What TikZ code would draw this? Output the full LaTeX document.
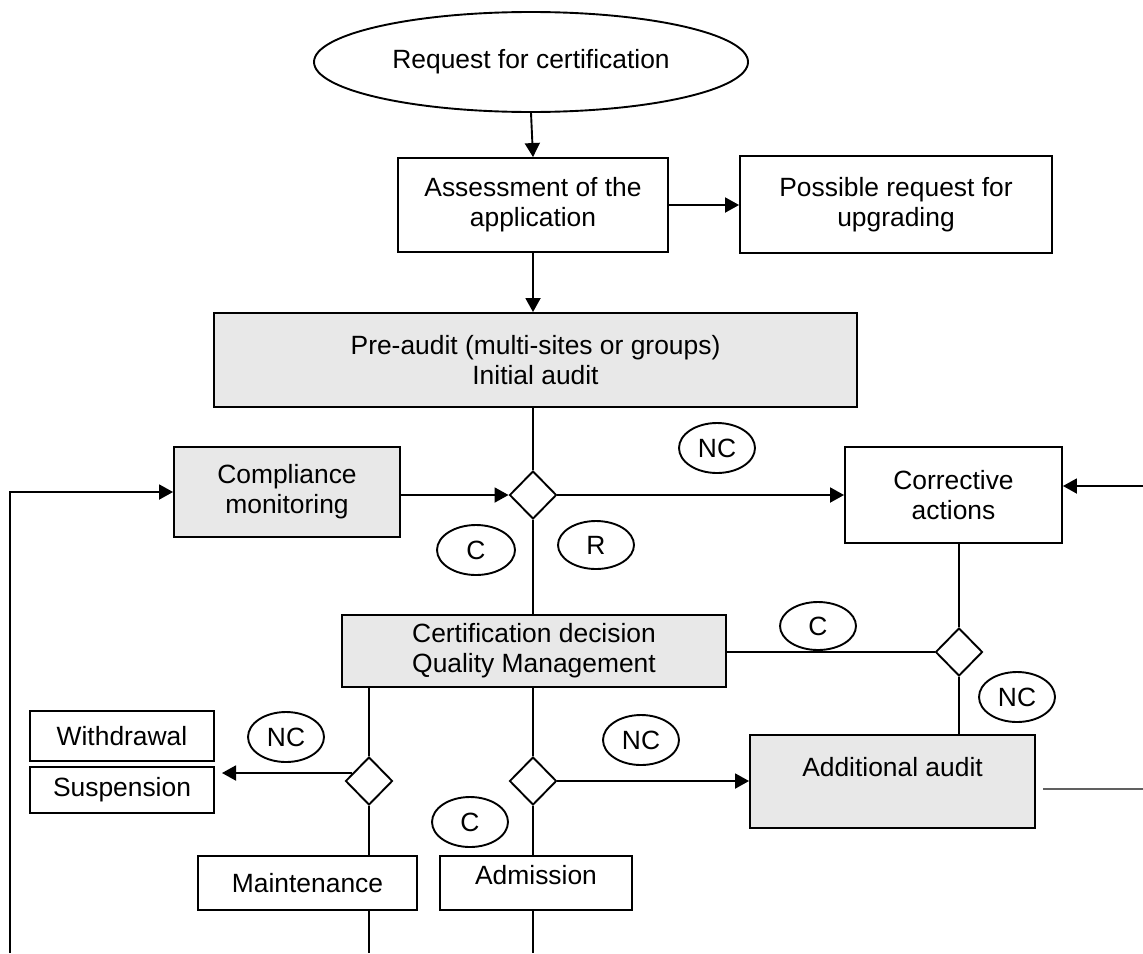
\documentclass[tikz,border=0pt]{standalone}
\usepackage{fontspec}
\setmainfont{Liberation Sans}
\usetikzlibrary{shapes.geometric,arrows.meta}
\begin{document}
\begin{tikzpicture}[x=0.5pt,y=-0.5pt,
  every node/.style={font=\fontsize{13.2}{15}\selectfont, align=center, line width=0.95pt},
  box/.style={draw, rectangle, inner sep=0pt},
  greybox/.style={box, fill=boxgrey},
  oval/.style={draw, ellipse, inner sep=0pt, minimum width=38pt, minimum height=25pt},
  decision/.style={draw, diamond, inner sep=0pt, minimum width=23.5pt, minimum height=24pt, fill=white},
  link/.style={line width=0.95pt},
  arr/.style={link, -{Triangle[length=7pt,width=7.5pt]}}
]
\definecolor{boxgrey}{HTML}{E8E8E8}
\definecolor{greyline}{HTML}{606060}
\useasboundingbox (0,0) rectangle (1143,953);

% nodes
\node[draw, ellipse, inner sep=0pt, minimum width=217pt, minimum height=50pt] (req) at (531,62) {Request for certification};
\node[box, minimum width=135pt, minimum height=47pt] (assess) at (533,205) {Assessment of the\\application};
\node[box, minimum width=156pt, minimum height=48.5pt] (upgr) at (896,204.5) {Possible request for\\upgrading};
\node[greybox, minimum width=321.5pt, minimum height=47pt] (pre) at (535.5,360) {Pre-audit (multi-sites or groups)\\Initial audit};
\node[greybox, minimum width=113pt, minimum height=45pt] (comp) at (287,492) {Compliance\\monitoring};
\node[decision] (d1) at (533,495) {};
\node[oval] (nc1) at (717,448) {NC};
\node[box, minimum width=108.5pt, minimum height=48pt] (corr) at (953.5,495) {Corrective\\actions};
\node[oval, minimum width=39pt] (c1) at (476,550) {C};
\node[oval, minimum height=24pt] (r1) at (596,545) {R};
\node[greybox, minimum width=192pt, minimum height=36pt] (cert) at (534,651) {Certification decision\\Quality Management};
\node[oval, minimum height=24pt] (c2) at (818,626) {C};
\node[decision] (d2) at (959,652) {};
\node[oval] (nc2) at (1017,697) {NC};
\node[greybox, minimum width=142.5pt, minimum height=46.5pt] (addl) at (892.5,781.5) {Additional audit\\\mbox{}};
\node[decision] (d3) at (369,781) {};
\node[oval] (nc3) at (286,737) {NC};
\node[box, minimum width=92pt, minimum height=25pt] (withd) at (122,736) {Withdrawal};
\node[box, minimum width=92pt, minimum height=23pt] (susp) at (122,790) {Suspension};
\node[box, minimum width=109.5pt, minimum height=27pt] (maint) at (307.5,883) {Maintenance};
\node[box, minimum width=96pt, minimum height=27pt, text depth=8pt] (adm) at (536,883) {Admission};
\node[decision] (d4) at (533,781) {};
\node[oval] (nc4) at (641,740) {NC};
\node[oval] (c3) at (470,822) {C};

% free ends
\coordinate (ws) at (222,773);
\coordinate (lb) at (10,953);
\coordinate (rin) at (1143,486);
\coordinate (rout) at (1143,789);
\coordinate (routs) at (1043,789);
\coordinate (b1) at (369,953);
\coordinate (b2) at (533,953);

% connectors
\draw[arr] (req.south) -- (assess.north);
\draw[arr] (assess.east) -- (upgr.west |- assess.east);
\draw[arr] (assess.south) -- (assess.south |- pre.north);
\draw[link] (d1 |- pre.south) -- (d1.north);
\draw[arr] (comp.east |- d1.west) -- (d1.west);
\draw[arr] (d1.east) -- (corr.west |- d1.east);
\draw[link] (d1.south) -- (d1 |- cert.north);
\draw[link] (cert.east |- d2.west) -- (d2.west);
\draw[link] (d2 |- corr.south) -- (d2.north);
\draw[link] (d2.south) -- (d2 |- addl.north);
\draw[link] (d3 |- cert.south) -- (d3.north);
\draw[arr] (d3.west) ++(7.8,-8) -- (ws);
\draw[link] (d3.south) -- (d3 |- maint.north);
\draw[link] (d3 |- maint.south) -- (b1);
\draw[link] (d4 |- cert.south) -- (d4.north);
\draw[arr] (d4.east) -- (addl.west |- d4.east);
\draw[link] (d4.south) -- (d4 |- adm.north);
\draw[link] (d4 |- adm.south) -- (b2);
\draw[arr] (lb) |- (comp.west);
\draw[arr] (rin) -- (corr.east |- rin);
\draw[link, greyline] (routs) -- (rout);
\end{tikzpicture}
\end{document}
